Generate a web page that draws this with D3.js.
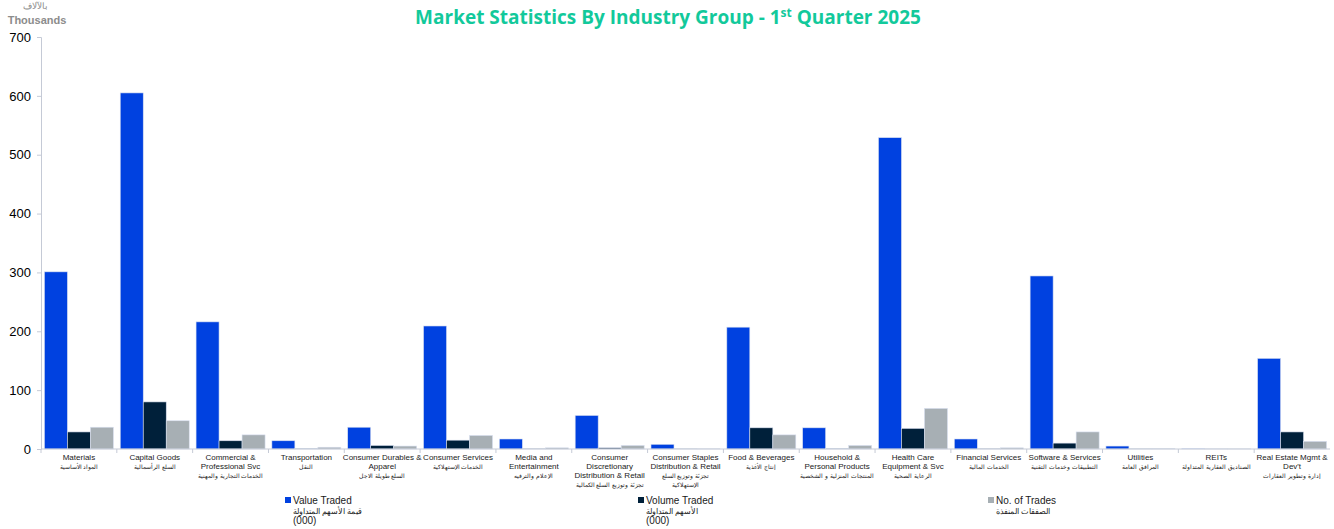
<!DOCTYPE html>
<html>
<head>
<meta charset="utf-8">
<script src="https://cdn.jsdelivr.net/npm/d3@7"></script>
<style>
  body { margin: 0; background: #fff; }
  svg { display: block; font-family: "Liberation Sans", Arial, sans-serif; }
  .y-axis path, .y-axis line, .x-axis path, .x-axis line { stroke: #c5cad6; }
</style>
</head>
<body>
<svg id="chart"></svg>
<script>
// categories, with their label lines (English first, Arabic after)
var categories = [
  "Materials", "Capital Goods", "Commercial & Professional Svc", "Transportation",
  "Consumer Durables & Apparel", "Consumer Services", "Media and Entertainment",
  "Consumer Discretionary Distribution & Retail", "Consumer Staples Distribution & Retail",
  "Food & Beverages", "Household & Personal Products", "Health Care Equipment & Svc",
  "Financial Services", "Software & Services", "Utilities", "REITs", "Real Estate Mgmt & Dev't"
];
var englishLines = [
  ["Materials"], ["Capital Goods"], ["Commercial &", "Professional Svc"], ["Transportation"],
  ["Consumer Durables &", "Apparel"], ["Consumer Services"], ["Media and", "Entertainment"],
  ["Consumer", "Discretionary", "Distribution & Retail"], ["Consumer Staples", "Distribution & Retail"],
  ["Food & Beverages"], ["Household &", "Personal Products"], ["Health Care", "Equipment & Svc"],
  ["Financial Services"], ["Software & Services"], ["Utilities"], ["REITs"], ["Real Estate Mgmt &", "Dev't"]
];
var arabicLines = [
  ["المواد الأساسية"], ["السلع الرأسمالية"], ["الخدمات التجارية والمهنية"], ["النقل"],
  ["السلع طويلة الاجل"], ["الخدمات الإستهلاكية"], ["الإعلام والترفيه"],
  ["تجزئة وتوزيع السلع الكمالية"], ["تجزئة وتوزيع السلع", "الإستهلاكية"],
  ["إنتاج الأغذية"], ["المنتجات المنزلية و الشخصية"], ["الرعاية الصحية"],
  ["الخدمات المالية"], ["التطبيقات وخدمات التقنية"], ["المرافق العامة"], ["الصناديق العقارية المتداولة"], ["إدارة وتطوير العقارات"]
];

// series values (thousands)
var valueTraded  = [301, 605, 216, 14, 37, 209, 17, 57, 8, 207, 36, 529, 17, 294, 5, 0.3, 154];
var volumeTraded = [29, 80, 14, 1, 6, 15, 0.3, 2, 0.2, 36, 1, 35, 0.3, 10, 0.2, 0.1, 29];
var noOfTrades   = [37, 48, 24, 3, 5, 23, 2, 6, 0.3, 24, 6, 69, 2, 29, 0.5, 0.2, 13];

var seriesNames = ["Value Traded", "Volume Traded", "No. of Trades"];
var seriesArabic = [["قيمة الأسهم المتداولة", "(000)"], ["الأسهم المتداولة", "(000)"], ["الصفقات المنفذة"]];
var yTicks = [0, 100, 200, 300, 400, 500, 600, 700];

var colors = ["#0041e0", "#00203a", "#a7afb4"];
var width = 1334, height = 529;
var margin = { left: 41, right: 4, top: 37, bottom: 80 };

var svg = d3.select("#chart").attr("width", width).attr("height", height);

var series = [valueTraded, volumeTraded, noOfTrades];
var rows = categories.map(function(c, i) {
  return { cat: c, values: series.map(function(s) { return s[i]; }) };
});

var x0 = d3.scaleBand().domain(categories)
  .range([margin.left, width - margin.right]).paddingInner(0.09).paddingOuter(0.045);
var x1 = d3.scaleBand().domain(d3.range(3)).range([0, x0.bandwidth()]);
var y = d3.scaleLinear().domain([0, 700]).range([height - margin.bottom, margin.top]);

// title
var title = svg.append("text")
  .attr("x", 668).attr("y", 24)
  .attr("text-anchor", "middle")
  .attr("fill", "#12c99b")
  .style("font-family", "'Open Sans', sans-serif")
  .style("font-weight", "bold")
  .style("font-size", "19px");
title.append("tspan").text("Market Statistics By Industry Group - 1");
title.append("tspan").attr("dy", -7).style("font-size", "12px").text("st");
title.append("tspan").attr("dy", 7).text(" Quarter 2025");

// unit label
svg.append("text").attr("x", 35).attr("y", 9).attr("text-anchor", "middle")
  .attr("fill", "#8c8c8c").style("font-size", "9px").text("بالآلاف");
svg.append("text").attr("x", 37).attr("y", 24).attr("text-anchor", "middle")
  .attr("fill", "#8c8c8c").style("font-size", "11px").style("font-weight", "bold").text("Thousands");

// bars
var groups = svg.append("g").selectAll("g").data(rows).enter().append("g")
  .attr("transform", function(d) { return "translate(" + x0(d.cat) + ",0)"; });
groups.selectAll("rect").data(function(d) { return d.values; }).enter().append("rect")
  .attr("x", function(d, i) { return x1(i); })
  .attr("width", x1.bandwidth())
  .attr("y", function(d) { return y(d); })
  .attr("height", function(d) { return y(0) - y(d); })
  .attr("fill", function(d, i) { return colors[i]; })
  .attr("stroke", "#d9e0f0").attr("stroke-width", 0.6);

// y axis
var yAxis = d3.axisLeft(y).tickValues(yTicks).tickSize(4).tickFormat(d3.format("d"));
var yg = svg.append("g").attr("class", "y-axis")
  .attr("transform", "translate(" + margin.left + ",0)").call(yAxis);
yg.selectAll("text").attr("fill", "#000").style("font-size", "13px").attr("x", -10);

// x axis line and separators between categories
var xg = svg.append("g").attr("class", "x-axis");
xg.append("line").attr("x1", margin.left).attr("x2", width - margin.right)
  .attr("y1", y(0)).attr("y2", y(0));
var step = x0.step();
xg.selectAll("line.sep").data(categories).enter().append("line").attr("class", "sep")
  .attr("x1", function(d) { return x0(d) - step * x0.paddingInner() / 2; })
  .attr("x2", function(d) { return x0(d) - step * x0.paddingInner() / 2; })
  .attr("y1", y(0)).attr("y2", y(0) + 4);

// category labels
var labels = svg.append("g").selectAll("text").data(categories).enter().append("text")
  .attr("text-anchor", "middle")
  .attr("transform", function(d) { return "translate(" + (x0(d) + x0.bandwidth() / 2) + "," + (y(0) + 11) + ")"; });
labels.each(function(d, i) {
  var t = d3.select(this);
  englishLines[i].forEach(function(line, k) {
    t.append("tspan").attr("x", 0).attr("y", k * 9).style("font-size", "8px").attr("fill", "#1a1a1a").text(line);
  });
  var n = englishLines[i].length;
  arabicLines[i].forEach(function(line, k) {
    t.append("tspan").attr("x", 0).attr("y", (n + k) * 9 - 0.5).style("font-size", "6.4px").attr("fill", "#1a1a1a").text(line);
  });
});

// legend
var legendX = [285, 638, 988];
var legend = svg.append("g").selectAll("g").data(seriesNames).enter().append("g")
  .attr("transform", function(d, i) { return "translate(" + legendX[i] + ",497)"; });
legend.append("rect").attr("width", 6).attr("height", 6)
  .attr("fill", function(d, i) { return colors[i]; });
legend.append("text").attr("x", 8).attr("y", 7).style("font-size", "10px").attr("fill", "#1a1a1a")
  .text(function(d) { return d; });
legend.each(function(d, i) {
  var g = d3.select(this);
  seriesArabic[i].forEach(function(line, k) {
    g.append("text").attr("x", 8).attr("y", 17 + k * 10)
      .style("font-size", line === "(000)" ? "10px" : "7.6px").attr("fill", "#1a1a1a").text(line);
  });
});
</script>
</body>
</html>
